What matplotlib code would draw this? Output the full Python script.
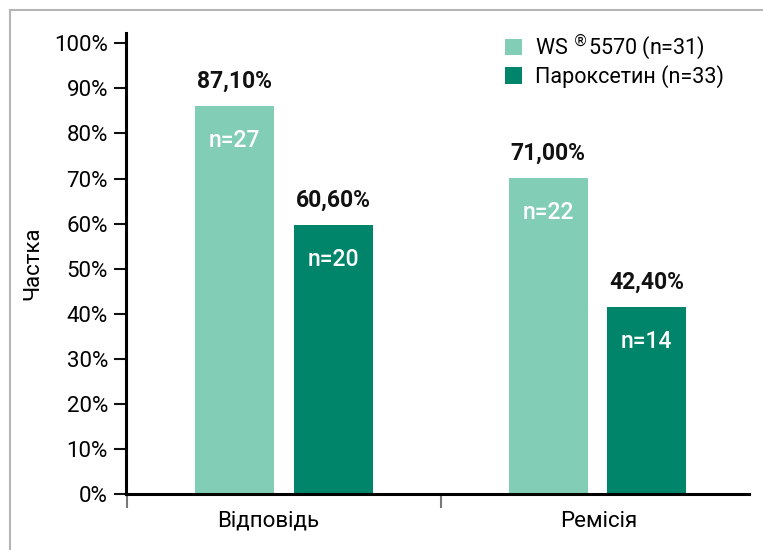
import matplotlib
matplotlib.use("Agg")
import matplotlib.pyplot as plt
from matplotlib.patches import Patch
from matplotlib.lines import Line2D
import numpy as np

plt.rcParams["font.family"] = ["Roboto", "DejaVu Sans"]

categories = ["Відповідь", "Ремісія"]
series_names = [r"WS $^{\circledR}$5570 (n=31)", "Пароксетин (n=33)"]
# bar heights as drawn in the picture
ws_vals = [86.0, 70.1]
par_vals = [59.7, 41.5]
# printed labels above / inside the bars
ws_labels = ["87,10%", "71,00%"]
par_labels = ["60,60%", "42,40%"]
ws_n = ["n=27", "n=22"]
par_n = ["n=20", "n=14"]
yticks = [0, 10, 20, 30, 40, 50, 60, 70, 80, 90, 100]

c_light = "#82cdb6"
c_dark = "#00856a"

W, H = 763, 550
fig = plt.figure(figsize=(W / 100, H / 100), dpi=100)
ax = fig.add_axes([126 / W, (H - 494.3) / H, (749 - 126) / W, (494.3 - 33) / H])

x = np.arange(len(categories))
off = 0.157
bw = 0.252
b1 = ax.bar(x - off, ws_vals, bw, color=c_light)
b2 = ax.bar(x + off, par_vals, bw, color=c_dark)

for bars, labs, ns in [(b1, ws_labels, ws_n), (b2, par_labels, par_n)]:
    for r, lab, n in zip(bars, labs, ns):
        cx = r.get_x() + r.get_width() / 2
        top = r.get_height()
        ax.annotate(lab, (cx, top), xytext=(0, 25), textcoords="offset pixels",
                    ha="center", va="center", fontsize=16.5, fontweight="bold", color="#111111")
        ax.annotate(n, (cx, top), xytext=(0, -34), textcoords="offset pixels",
                    ha="center", va="center", fontsize=16.5, fontweight="medium", color="white")

ax.set_xlim(-0.504, 1.483)
ax.set_ylim(0, 102.28)

ax.set_yticks(yticks)
ax.set_yticklabels([f"{v}%" for v in yticks], fontsize=16)
ax.tick_params(axis="y", direction="out", length=9, width=1.5, pad=4, color="#111111")

# category boundaries as ticks, names as minor labels
ax.set_xticks([-0.5, 0.5])
ax.set_xticklabels(["", ""])
ax.tick_params(axis="x", which="major", direction="out", length=10, width=1.5, color="#777777")
ax.xaxis.get_major_ticks()[0].tick1line.set_color("#111111")
ax.set_xticks(x - 0.05 * np.array([1, -0.1]), minor=True)
ax.set_xticklabels(categories, minor=True, fontsize=16)
ax.tick_params(axis="x", which="minor", length=0, pad=12)

for s in ["top", "right"]:
    ax.spines[s].set_visible(False)
ax.spines["left"].set_linewidth(2.2)
ax.spines["bottom"].set_linewidth(2.2)

ax.set_ylabel("Частка", fontsize=16, labelpad=8)

handles = [Patch(facecolor=c_light), Patch(facecolor=c_dark)]
ax.legend(handles, series_names, loc="upper left", bbox_to_anchor=(505 / W, 1 - 33 / H),
          bbox_transform=fig.transFigure, frameon=False, fontsize=15.5,
          handlelength=0.8, handleheight=0.8, handletextpad=0.6, labelspacing=0.1,
          borderaxespad=0, borderpad=0)

# grey frame around the picture (only top and left are inside the image)
fig.add_artist(Line2D([9.5 / W, 9.5 / W], [0, 1 - 10 / H], color="#b5b5b5", lw=1.5))
fig.add_artist(Line2D([9.5 / W, 1], [1 - 10 / H, 1 - 10 / H], color="#b5b5b5", lw=1.5))

fig.savefig("out.png", dpi=100)
